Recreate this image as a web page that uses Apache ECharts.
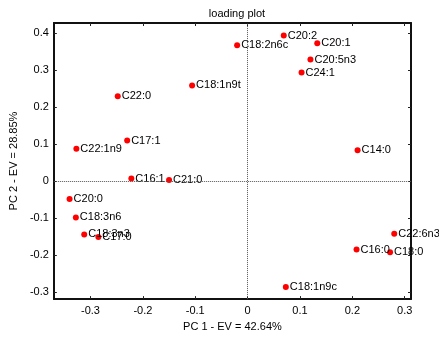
<!DOCTYPE html>
<html><head><meta charset="utf-8">
<script src="https://cdn.jsdelivr.net/npm/echarts@6/dist/echarts.min.js"></script>
<style>html,body{margin:0;padding:0;background:#fff}#c{width:439px;height:337px}</style>
</head><body><div id="c"></div>
<script>
const names = ["C22:1n9","C17:1","C22:0","C18:1n9t","C18:2n6c","C20:2","C20:1","C20:5n3","C24:1","C14:0","C16:1","C21:0","C20:0","C18:3n6","C18:3n3","C17:0","C22:6n3","C16:0","C18:0","C18:1n9c"];
const pc1 = [-0.327,-0.230,-0.248,-0.106,-0.020,0.069,0.133,0.120,0.103,0.210,-0.222,-0.150,-0.340,-0.328,-0.312,-0.285,0.280,0.208,0.272,0.073];
const pc2 = [0.088,0.110,0.230,0.259,0.368,0.394,0.373,0.329,0.294,0.084,0.007,0.003,-0.048,-0.098,-0.144,-0.151,-0.142,-0.185,-0.192,-0.286];
const xTicks = [-0.3,-0.2,-0.1,0,0.1,0.2,0.3];
const yTicks = [-0.3,-0.2,-0.1,0,0.1,0.2,0.3,0.4];
const font = 'Liberation Sans, Arial, sans-serif';
const chart = echarts.init(document.getElementById('c'));
const fmt = v => { const r = Math.round(v*10)/10; return r === 0 ? '0' : String(r); };
const baseX = {type:'value', min:-0.37, max:0.312, axisLine:{show:true,onZero:false,lineStyle:{color:'#111',width:2}},
  axisTick:{show:true,inside:true,length:3,customValues:xTicks,lineStyle:{color:'#222',width:1}}, splitLine:{show:false}};
const baseY = {type:'value', min:-0.319, max:0.428, axisLine:{show:true,onZero:false,lineStyle:{color:'#111',width:2}},
  axisTick:{show:true,inside:true,length:3,customValues:yTicks,lineStyle:{color:'#222',width:1}}, splitLine:{show:false}};
chart.setOption({
  animation:false,
  title:{text:'loading plot', left:232, top:3, textAlign:'center', textStyle:{fontSize:11,fontWeight:'normal',color:'#000',fontFamily:font}},
  grid:{left:53,right:28,top:23,bottom:33},
  xAxis:[Object.assign({}, baseX, {position:'bottom', name:'PC 1 - EV = 42.64%', nameLocation:'middle', nameGap:21,
      nameTextStyle:{fontSize:11,color:'#000',fontFamily:font},
      axisLabel:{show:true,customValues:xTicks,formatter:fmt,fontSize:11,color:'#000',fontFamily:font,margin:6}}),
    Object.assign({}, baseX, {position:'top', axisLabel:{show:false}})],
  yAxis:[Object.assign({}, baseY, {position:'left', name:'PC 2 - EV = 28.85%', nameLocation:'middle', nameGap:33,
      nameTextStyle:{fontSize:11,color:'#000',fontFamily:font},
      axisLabel:{show:true,customValues:yTicks,formatter:fmt,fontSize:11,color:'#000',fontFamily:font,margin:5}}),
    Object.assign({}, baseY, {position:'right', axisLabel:{show:false}})],
  series:[{
    type:'scatter', xAxisIndex:0, yAxisIndex:0, symbolSize:6,
    itemStyle:{color:'#ff0000', opacity:1},
    data: names.map((n,i)=>({name:n, value:[pc1[i],pc2[i]]})),
    label:{show:true, position:'right', distance:1, formatter:'{b}', fontSize:11, color:'#000', fontFamily:font},
    markLine:{silent:true, symbol:['none','none'], label:{show:false},
      lineStyle:{type:[1,1], color:'#555', width:1},
      data:[{xAxis:0},{yAxis:0}]}
  }]
});
</script></body></html>
